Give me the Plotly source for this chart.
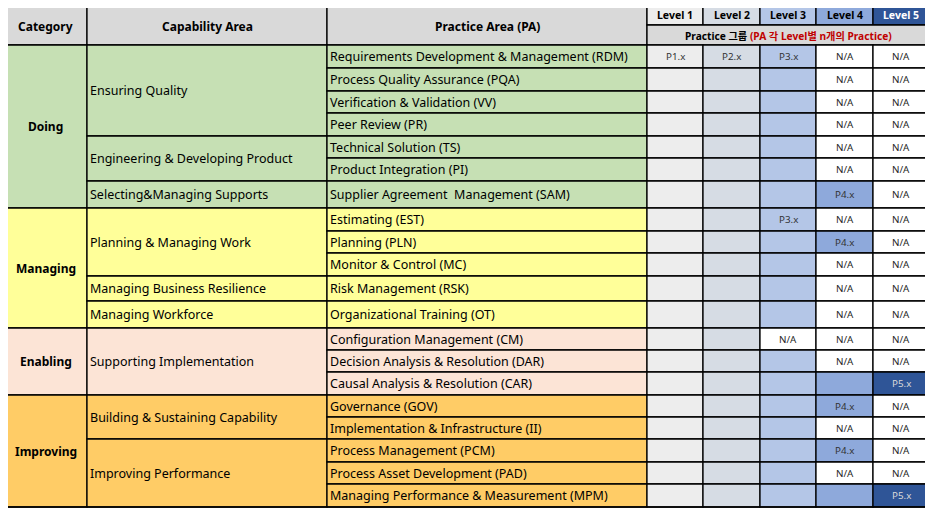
import plotly.graph_objects as go

# ---- table content ----
categories = ["Doing", "Managing", "Enabling", "Improving"]
category_rows = [7, 5, 3, 5]

capability_areas = [
    "Ensuring Quality",
    "Engineering & Developing Product",
    "Selecting&Managing Supports",
    "Planning & Managing Work",
    "Managing Business Resilience",
    "Managing Workforce",
    "Supporting Implementation",
    "Building & Sustaining Capability",
    "Improving Performance",
]
capability_rows = [4, 2, 1, 3, 1, 1, 3, 2, 3]

practice_areas = [
    "Requirements Development & Management (RDM)",
    "Process Quality Assurance (PQA)",
    "Verification & Validation (VV)",
    "Peer Review (PR)",
    "Technical Solution (TS)",
    "Product Integration (PI)",
    "Supplier Agreement  Management (SAM)",
    "Estimating (EST)",
    "Planning (PLN)",
    "Monitor & Control (MC)",
    "Risk Management (RSK)",
    "Organizational Training (OT)",
    "Configuration Management (CM)",
    "Decision Analysis & Resolution (DAR)",
    "Causal Analysis & Resolution (CAR)",
    "Governance (GOV)",
    "Implementation & Infrastructure (II)",
    "Process Management (PCM)",
    "Process Asset Development (PAD)",
    "Managing Performance & Measurement (MPM)",
]

level_labels = ["Level 1", "Level 2", "Level 3", "Level 4", "Level 5"]

level1 = ["P1.x", "", "", "", "", "", "", "", "", "", "", "", "", "", "", "", "", "", "", ""]
level2 = ["P2.x", "", "", "", "", "", "", "", "", "", "", "", "", "", "", "", "", "", "", ""]
level3 = ["P3.x", "", "", "", "", "", "", "P3.x", "", "", "", "", "N/A", "", "", "", "", "", "", ""]
level4 = ["N/A", "N/A", "N/A", "N/A", "N/A", "N/A", "P4.x", "N/A", "P4.x", "N/A", "N/A", "N/A",
          "N/A", "N/A", "", "P4.x", "N/A", "P4.x", "N/A", ""]
level5 = ["N/A", "N/A", "N/A", "N/A", "N/A", "N/A", "N/A", "N/A", "N/A", "N/A", "N/A", "N/A",
          "N/A", "N/A", "P5.x", "N/A", "N/A", "N/A", "N/A", "P5.x"]
levels = [level1, level2, level3, level4, level5]

# ---- layout / styling ----
W, H = 933, 510
PAGE_OFFSET = 8  # html body margin, so the axis is shifted to keep the table in place
col_edges = [4, 87, 327, 647, 703, 760, 816, 873, 929]
header_edges = [5, 25, 45]
row_edges = [45, 68, 91, 113, 136, 158, 181, 208, 231, 253, 276, 301, 328,
             350, 372, 395, 417, 439, 462, 484, 507]

category_colors = ["#C6E0B4", "#FFFF99", "#FCE4D6", "#FFCC66"]
level_colors = ["#EDEDED", "#D6DCE4", "#B4C6E7", "#8EA9DB", "#2F5597"]
header_gray = "#D9D9D9"
FONT = "Noto Sans, Noto Sans CJK KR, sans-serif"
LINE = dict(color="black", width=1.3)

shapes = []
annotations = []


def cell(x0, x1, y0, y1, fill, line=LINE):
    shapes.append(dict(type="rect", xref="x", yref="y", x0=x0, x1=x1, y0=y0, y1=y1,
                       fillcolor=fill, line=line, layer="below"))


def text(x, y, s, size=12.5, color="#000", bold=False, anchor="left"):
    annotations.append(dict(x=x, y=y, xref="x", yref="y", text=f"<b>{s}</b>" if bold else s,
                            showarrow=False, xanchor=anchor, yanchor="middle",
                            font=dict(family=FONT, size=size, color=color)))


# header
for i, title in enumerate(["Category", "Capability Area", "Practice Area (PA)"]):
    cell(col_edges[i], col_edges[i + 1], header_edges[0], header_edges[2], header_gray)
    text((col_edges[i] + col_edges[i + 1]) / 2, 26, title, size=12, bold=True, anchor="center")

for j, lab in enumerate(level_labels):
    x0, x1 = col_edges[3 + j], col_edges[4 + j]
    cell(x0, x1, header_edges[0], header_edges[1], level_colors[j])
    text((x0 + x1) / 2, 15, lab, size=10.5, bold=True,
         color="white" if j == 4 else "#000", anchor="center")

cell(col_edges[3], col_edges[8], header_edges[1], header_edges[2], header_gray)
text((col_edges[3] + col_edges[8]) / 2, 36,
     "Practice 그룹 <span style='color:#C00000'>(PA 각 Level별 n개의 Practice)</span>",
     size=10.2, bold=True, anchor="center")

# row -> category index
row_cat = []
for ci, n in enumerate(category_rows):
    row_cat += [ci] * n

# category column
start = 0
for ci, (name, n) in enumerate(zip(categories, category_rows)):
    y0, y1 = row_edges[start], row_edges[start + n]
    cell(col_edges[0], col_edges[1], y0, y1, category_colors[ci])
    text((col_edges[0] + col_edges[1]) / 2, (y0 + y1) / 2, name, size=12, bold=True, anchor="center")
    start += n

# capability area column
start = 0
for name, n in zip(capability_areas, capability_rows):
    y0, y1 = row_edges[start], row_edges[start + n]
    cell(col_edges[1], col_edges[2], y0, y1, category_colors[row_cat[start]])
    text(col_edges[1] + 1, (y0 + y1) / 2, name)
    start += n

# practice areas and level cells
for r, pa in enumerate(practice_areas):
    y0, y1 = row_edges[r], row_edges[r + 1]
    cell(col_edges[2], col_edges[3], y0, y1, category_colors[row_cat[r]])
    text(col_edges[2] + 1, (y0 + y1) / 2, pa)
    for j, vals in enumerate(levels):
        v = vals[r]
        x0, x1 = col_edges[3 + j], col_edges[4 + j]
        fill = "white" if v == "N/A" else level_colors[j]
        cell(x0, x1, y0, y1, fill)
        if v:
            color = "#D9D9D9" if (j == 4 and v != "N/A") else ("#262626" if v == "N/A" else "#333333")
            text((x0 + x1) / 2, (y0 + y1) / 2, v, size=9.8, color=color, anchor="center")

# outer frame
shapes.append(dict(type="rect", xref="x", yref="y", x0=col_edges[0], x1=col_edges[-1],
                   y0=header_edges[0], y1=row_edges[-1], line=dict(color="black", width=1.6)))

fig = go.Figure()
fig.add_trace(go.Scatter(x=[PAGE_OFFSET, W], y=[PAGE_OFFSET, H], mode="markers",
                         marker=dict(opacity=0), hoverinfo="skip", showlegend=False))
fig.update_layout(
    width=W, height=H, margin=dict(l=0, r=0, t=0, b=0),
    paper_bgcolor="white", plot_bgcolor="white",
    xaxis=dict(range=[PAGE_OFFSET, W + PAGE_OFFSET], visible=False, fixedrange=True),
    yaxis=dict(range=[H + PAGE_OFFSET, PAGE_OFFSET], visible=False, fixedrange=True),
    shapes=shapes, annotations=annotations, showlegend=False,
)
fig.write_html("out.html")
